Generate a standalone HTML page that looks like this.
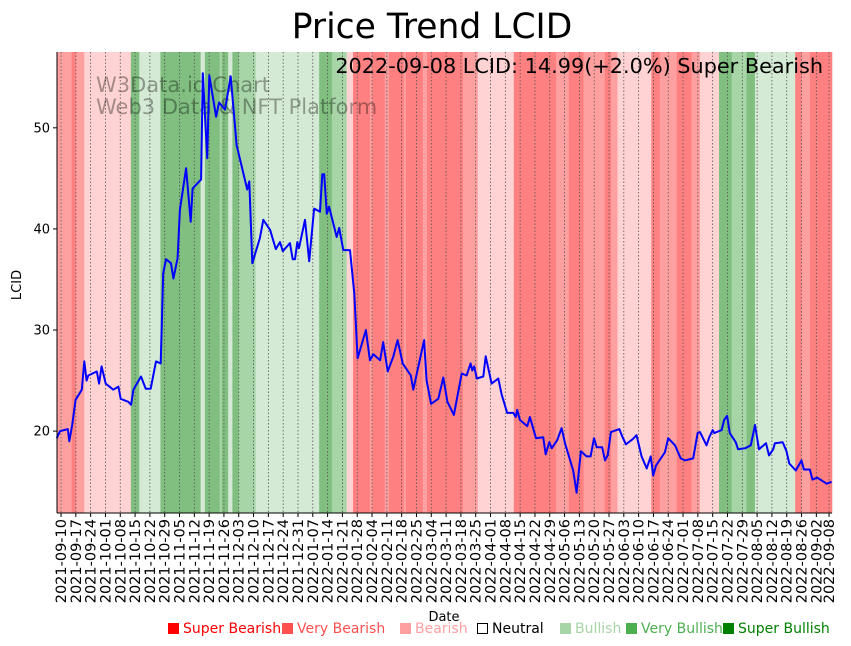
<!DOCTYPE html>
<html><head><meta charset="utf-8"><style>
html,body{margin:0;padding:0;background:#fff;width:851px;height:646px;overflow:hidden}
svg{display:block;font-family:"DejaVu Sans","Liberation Sans",sans-serif}
</style></head><body>
<svg id="chart" width="851" height="646" viewBox="0 0 851 646" xmlns="http://www.w3.org/2000/svg">
<text x="432" y="38" font-size="34.5" text-anchor="middle">Price Trend LCID</text>
<g id="bands"></g>
<g id="grid"></g>
<text x="96" y="92" font-size="21" fill="#000" fill-opacity="0.35">W3Data.io Chart</text>
<text x="96" y="114" font-size="21" fill="#000" fill-opacity="0.35">Web3 Data &amp; NFT Platform</text>
<g id="series"></g>
<text x="823" y="73" font-size="20.8" text-anchor="end">2022-09-08 LCID: 14.99(+2.0%) Super Bearish</text>
<g id="axes"></g>
<text transform="translate(21,285) rotate(-90)" font-size="13" text-anchor="middle">LCID</text>
<text x="444" y="621" font-size="13" text-anchor="middle">Date</text>
<g id="legend"></g>
</svg>
<script>
// ---- data ----
const startDate = "2021-09-10";
const dayOffsets = [-2,-0.5,3.2,3.9,5.3,6.9,9.8,11,12.1,12.9,16.9,18,19.2,21.1,24.7,27.1,28.2,31.8,33.1,34.2,37.8,40,42.4,44.9,47.1,48.3,49.6,52,53.1,55.1,56.2,59.1,61.3,62.2,66.2,67,69.1,70.1,73.3,74.7,77.5,80.2,83,88,89,90.4,94,95.6,98.8,101.5,103.5,104.8,108.2,109.5,110.6,111.7,112.5,115.3,117.3,119.6,122.4,123.5,124.4,125.6,126.7,130.3,131.5,133.4,136.6,138.6,140.2,144.1,146,147.6,150.8,152.3,154.4,157.1,159.1,161.5,165.3,166.5,171.6,172.8,174.9,178.3,180.7,182.6,185.7,189.4,191.7,193.6,194.4,195.3,196.5,199.6,200.7,203.5,206.7,208.3,210.9,213.8,214.9,215.6,216.9,220.4,221.6,224.5,227.9,229.1,230.8,231.9,234.5,236.6,238.2,242.1,243.7,245.7,248.4,250.3,251.9,253.2,255.8,257.1,258.4,259.9,263.9,265,267,270.2,272,274.4,276.8,278.7,279.9,281.2,285.4,287,290.2,292.9,294.9,298.8,300.9,302,305.1,306.4,308,308.7,312.2,313.4,314.8,316.1,318.9,320,323.3,326,328,329.9,333.2,334.6,336.6,337.4,341.1,342.9,344.2,347.3,350,351.1,353.9,355.2,357.4,361.9,364.2];
const prices = [19.3,20.0,20.2,19.0,20.6,23.1,24.1,26.9,25.0,25.5,25.9,24.7,26.4,24.7,24.1,24.4,23.2,22.9,22.6,24.1,25.4,24.2,24.2,26.9,26.7,35.6,37.0,36.6,35.1,37.1,41.9,46.0,40.7,44.0,44.9,55.4,47.0,55.2,51.1,52.5,51.8,55.1,48.3,43.9,44.7,36.6,39.1,40.9,39.9,38.0,38.7,37.8,38.6,37.0,37.0,38.7,38.1,40.9,36.8,42.0,41.7,45.4,45.4,41.5,42.2,39.2,40.1,37.9,37.9,33.6,27.2,30.0,27.0,27.6,27.0,28.8,25.9,27.4,29.0,26.7,25.5,24.1,29.0,25.0,22.7,23.2,25.3,22.9,21.6,25.7,25.5,26.7,26.0,26.4,25.2,25.4,27.4,24.7,25.2,23.6,21.8,21.8,21.4,22.1,21.1,20.5,21.4,19.3,19.4,17.7,18.9,18.3,19.1,20.3,18.8,16.1,13.9,18.0,17.5,17.5,19.3,18.4,18.4,17.1,17.6,19.9,20.2,19.6,18.7,19.2,19.6,17.5,16.3,17.5,15.6,16.6,17.9,19.3,18.6,17.3,17.1,17.3,19.8,19.9,18.6,19.4,20.1,19.8,20.1,21.1,21.5,19.8,18.9,18.2,18.3,18.6,20.6,18.2,18.8,17.6,18.2,18.8,18.9,18.0,16.8,16.1,17.1,16.2,16.2,15.2,15.4,14.8,14.99];
// sentiment: 1=super bearish,2=very bearish,3=bearish,5=bullish,6=very bullish,7=super bullish
const bandStarts = [-2,5,7,11,33,37,47,66,68,75,76,79,81,84,92,122,128,135,138,146,147,153,155,162,163,171,173,190,197,214,234,240,247,257,260,263,279,283,291,298,302,311,317,324,328,347,350,354];
const bandLevels = [2,1,2,3,7,5,7,5,7,6,7,5,7,6,5,7,6,3,1,2,1,2,1,2,1,2,1,2,3,1,2,1,2,1,2,3,1,2,1,2,3,7,6,7,5,1,2,1];
const bandEnd = 365;
const yTicks = [20,30,40,50];
const legendLabels = ["Super Bearish","Very Bearish","Bearish","Neutral","Bullish","Very Bullish","Super Bullish"];
const legendColors = ["#ff0000","#ff5050","#ffa0a0","#ffffff","#a8d5a8","#4caf50","#008000"];
const legendX = [168,282,400,477,560,626,723];

// ---- scales ----
const X0=57, X1=832, Y0=52, Y1=513;
const dMin=-1.9, dMax=364.4, pMin=11.9, pMax=57.5;
const xs = d => X0 + (d-dMin)/(dMax-dMin)*(X1-X0);
const ys = p => Y1 - (p-pMin)/(pMax-pMin)*(Y1-Y0);
const NS="http://www.w3.org/2000/svg";
function mk(tag, attrs, parent){const e=document.createElementNS(NS,tag);for(const k in attrs)e.setAttribute(k,attrs[k]);parent.appendChild(e);return e;}
const bandFill={1:"#ff8080",2:"#ffa0a0",3:"#ffd3d3",5:"#d5ead5",6:"#a8d5a8",7:"#80bf80"};

const gB=document.getElementById('bands');
for(let i=0;i<bandStarts.length;i++){
  const a=Math.max(xs(bandStarts[i]),X0), b=Math.min(xs(i+1<bandStarts.length?bandStarts[i+1]:bandEnd),X1);
  const r=mk('rect',{x:a,y:Y0,width:Math.max(0,b-a+0.3),height:Y1-Y0,fill:bandFill[bandLevels[i]]},gB);
  
  
}
const gG=document.getElementById('grid'), gA=document.getElementById('axes');
const base=new Date(startDate+"T00:00:00Z");
const tickDays=[];
for(let d=0; d<=357; d+=7) tickDays.push(d);
tickDays.push(363);
tickDays.forEach(d=>{
  const x=xs(d);
  const gl=mk('line',{x1:x,y1:Y0,x2:x,y2:Y1,stroke:"#555",'stroke-width':0.8,'stroke-dasharray':'1.5,2'},gG);
  
  
  mk('line',{x1:x,y1:Y1,x2:x,y2:Y1+4,stroke:"#000",'stroke-width':1},gA);
  const dt=new Date(base.getTime()+d*86400000);
  const lbl=dt.toISOString().slice(0,10);
  const t=mk('text',{transform:`translate(${x+5},${Y1+6}) rotate(-90)`,'font-size':14.5,'text-anchor':'end'},gA);
  t.textContent=lbl;
  
  
});
yTicks.forEach(v=>{
  const y=ys(v);
  mk('line',{x1:X0-4,y1:y,x2:X0,y2:y,stroke:"#000",'stroke-width':1},gA);
  const t=mk('text',{x:X0-7,y:y+4.5,'font-size':13,'text-anchor':'end'},gA);
  t.textContent=v;
  
  
});
const sl=mk('line',{x1:X0,y1:Y0,x2:X0,y2:Y1,stroke:"#000",'stroke-width':1},gA);


const sb=mk('line',{x1:X0,y1:Y1,x2:X1,y2:Y1,stroke:"#000",'stroke-width':1},gA);



const pts=dayOffsets.map((d,i)=>xs(d).toFixed(1)+","+ys(prices[i]).toFixed(1)).join(" ");
const pl=mk('polyline',{points:pts,fill:"none",stroke:"#0000ff",'stroke-width':2,'stroke-linejoin':'round'},document.getElementById('series'));



const gL=document.getElementById('legend');
legendLabels.forEach((lab,i)=>{
  const g=mk('g',{},gL);
  
  
  const x=legendX[i];
  if(lab==="Neutral") mk('rect',{x:x+0.5,y:623.5,width:10,height:10,fill:"#fff",stroke:"#000",'stroke-width':1},g);
  else mk('rect',{x:x,y:623,width:11,height:11,fill:legendColors[i]},g);
  const t=mk('text',{x:x+15,y:633,'font-size':14,fill:lab==="Neutral"?"#000":legendColors[i]},g);
  t.textContent=lab;
});
</script>
</body></html>
